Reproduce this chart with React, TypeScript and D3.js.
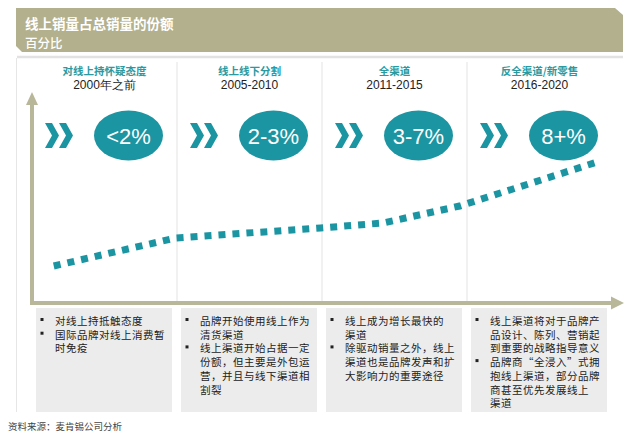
import React from "react";
import * as d3 from "d3";

const titleLines = ["线上销量占总销量的份额", "百分比"];
const stages = ["对线上持怀疑态度", "线上线下分割", "全渠道", "反全渠道/新零售"];
const periods = ["2000年之前", "2005-2010", "2011-2015", "2016-2020"];
const shares = ["<2%", "2-3%", "3-7%", "8+%"];
const bullets: string[][][] = [
  [["对线上持抵触态度"], ["国际品牌对线上消费暂", "时免疫"]],
  [["品牌开始使用线上作为", "清货渠道"], ["线上渠道开始占据一定", "份额，但主要是外包运", "营，并且与线下渠道相", "割裂"]],
  [["线上成为增长最快的", "渠道"], ["除驱动销量之外，线上", "渠道也是品牌发声和扩", "大影响力的重要途径"]],
  [["线上渠道将对于品牌产", "品设计、陈列、营销起", "到重要的战略指导意义"], ["品牌商“全浸入”式拥", "抱线上渠道，部分品牌", "商甚至优先发展线上", "渠道"]],
];
// trend line: position along stage axis (0..4) and online share (%)
const trendX = [0.15, 0.99, 1.99, 2.42, 2.95, 3.92];
const trendY = [1.8, 3.2, 3.7, 3.95, 4.8, 7.05];
const source = "资料来源：麦肯锡公司分析";

const W = 640;
const H = 440;
const TEAL = "#1b95a2";
const OLIVE = "#b3b08d";
const AXIS = "#b9b79a";
const CJK = "'Noto Sans CJK SC', sans-serif";
const ARIAL = "Arial, 'Liberation Sans', sans-serif";

export default function App() {
  const x = d3.scaleLinear().domain([0, 4]).range([32, 612]);
  const y = d3.scaleLinear().domain([0, 10]).range([302, 102]);
  const line = d3
    .line<number>()
    .x((_, i) => x(trendX[i]))
    .y((d) => y(d));

  const colStart = (i: number) => x(i);
  const chevron = (x0: number, cy: number) =>
    `M${x0},${cy - 12.5} L${x0 + 7},${cy - 12.5} L${x0 + 14},${cy} L${x0 + 7},${cy + 12.5} L${x0},${cy + 12.5} L${x0 + 7},${cy} Z`;

  const lineH = 13.7;

  return (
    <svg
      width={W}
      height={H}
      style={{ position: "absolute", left: 0, top: 0, background: "#fff" }}
      fontFamily={CJK}
    >
      {/* header band */}
      <path d="M16,8 L615,8 L623,15 L623,52 L22,52 L16,46 Z" fill={OLIVE} />
      <text x={25} y={29} fill="#fff" fontSize={13.5} fontWeight={700} fontFamily={CJK}>
        {titleLines[0]}
      </text>
      <text x={25} y={47.5} fill="#fff" fontSize={12.5} fontWeight={500} fontFamily={CJK}>
        {titleLines[1]}
      </text>
      {/* frame */}
      <line x1={17} x2={623} y1={57} y2={57} stroke="#e2e2e2" strokeWidth={2.5} />
      <line x1={16.5} x2={16.5} y1={58} y2={412} stroke="#e6e6e6" strokeWidth={1} />

      {/* column dividers */}
      {[1, 2, 3].map((i) => (
        <line key={i} x1={x(i)} x2={x(i)} y1={62} y2={301} stroke="#e3e3e3" strokeWidth={1} />
      ))}

      {/* axes */}
      <line x1={32} x2={32} y1={104} y2={304} stroke={AXIS} strokeWidth={4} />
      <path d="M32,92 L38,105 L26,105 Z" fill={AXIS} />
      <line x1={30} x2={612} y1={303} y2={303} stroke={AXIS} strokeWidth={4} />
      <path d="M624,303 L611,296.5 L611,309.5 Z" fill={AXIS} />

      {stages.map((s, i) => {
        const cx = x(i + 0.5);
        const c0 = colStart(i);
        return (
          <g key={s}>
            <text textAnchor="middle">
              <tspan x={cx} y={74.5} fill="#2a9aa0" fontSize={10.5} fontWeight={700} fontFamily={CJK}>
                {s}
              </tspan>
              <tspan x={cx} y={89} fill="#222" fontSize={12} fontFamily={ARIAL}>
                {periods[i]}
              </tspan>
            </text>
            <path d={chevron(c0 + 13, 135.5)} fill={TEAL} />
            <path d={chevron(c0 + 27, 135.5)} fill={TEAL} />
            <ellipse cx={c0 + 96.5} cy={135.5} rx={34.5} ry={25} fill={TEAL} />
            <text x={c0 + 96.5} y={143.5} textAnchor="middle" fill="#fff" fontSize={22} fontFamily={ARIAL}>
              {shares[i]}
            </text>
          </g>
        );
      })}

      {/* trend */}
      <path d={line(trendY) || ""} fill="none" stroke={TEAL} strokeWidth={7} strokeDasharray="7 7" />

      {/* lower boxes */}
      {bullets.map((group, i) => {
        const c0 = colStart(i);
        const starts: number[] = [];
        const lines: string[] = [];
        group.forEach((b) => {
          starts.push(lines.length);
          lines.push(...b);
        });
        return (
          <g key={i}>
            <rect x={c0 + 4} y={308} width={136} height={104} fill="#ececec" />
            {starts.map((r) => (
              <rect key={r} x={c0 + 8.5} y={318 + r * lineH} width={3} height={3} fill="#222" />
            ))}
            <text fontSize={10.5} letterSpacing={0.5} fill="#222">
              {lines.map((t, k) => (
                <tspan key={k} x={c0 + 23} y={325 + k * lineH}>
                  {t}
                </tspan>
              ))}
            </text>
          </g>
        );
      })}

      <text x={8} y={430} fontSize={9.5} fill="#444">
        {source}
      </text>
    </svg>
  );
}
